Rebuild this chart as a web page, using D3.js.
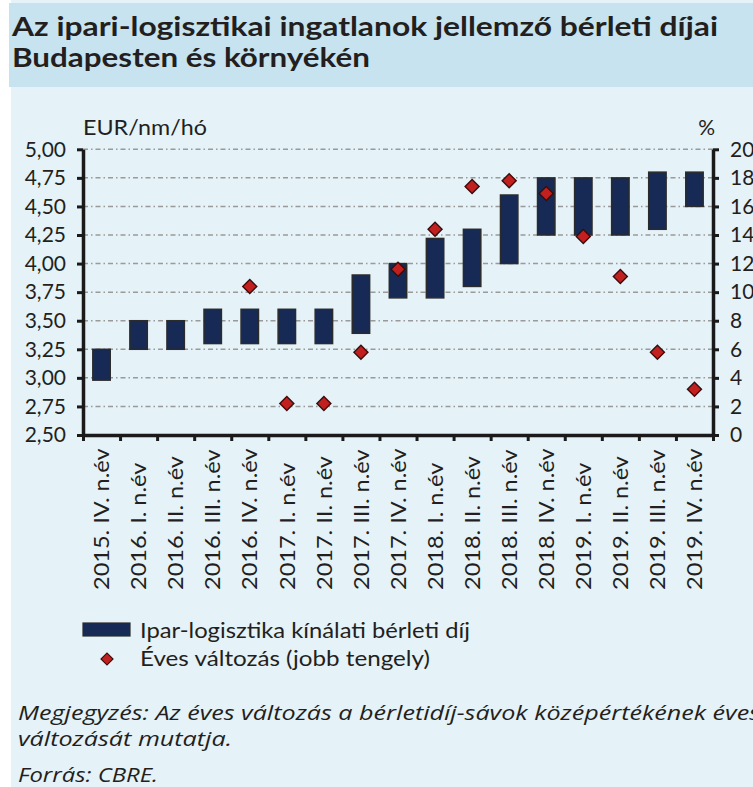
<!DOCTYPE html>
<html><head><meta charset="utf-8">
<script src="https://cdn.jsdelivr.net/npm/d3@7"></script>
<style>
html,body{margin:0;padding:0;background:#fff;}
svg{display:block;}
</style></head>
<body>
<svg id="chart" width="753" height="787"></svg>
<script>
const categories = ["2015. IV. n.év","2016. I. n.év","2016. II. n.év","2016. III. n.év","2016. IV. n.év",
  "2017. I. n.év","2017. II. n.év","2017. III. n.év","2017. IV. n.év","2018. I. n.év","2018. II. n.év",
  "2018. III. n.év","2018. IV. n.év","2019. I. n.év","2019. II. n.év","2019. III. n.év","2019. IV. n.év"];
const rentLow  = [2.98,3.25,3.25,3.30,3.30,3.30,3.30,3.39,3.70,3.70,3.80,4.00,4.25,4.25,4.25,4.30,4.50];
const rentHigh = [3.25,3.50,3.50,3.60,3.60,3.60,3.60,3.90,4.00,4.22,4.30,4.60,4.75,4.75,4.75,4.80,4.80];
const annualChange = [null,null,null,null,10.4,2.2,2.2,5.8,11.6,14.4,17.4,17.8,16.9,13.9,11.1,5.8,3.2];
const leftTicks = [2.5,2.75,3,3.25,3.5,3.75,4,4.25,4.5,4.75,5];
const rightTicks = [0,2,4,6,8,10,12,14,16,18,20];
const title = ["Az ipari-logisztikai ingatlanok jellemző bérleti díjai","Budapesten és környékén"];
const legendLabels = ["Ipar-logisztika kínálati bérleti díj","Éves változás (jobb tengely)"];
const notes = ["Megjegyzés: Az éves változás a bérletidíj-sávok középértékének éves","változását mutatja."];
const source = "Forrás: CBRE.";

const svg = d3.select("#chart");
const W = 753, H = 787;
const FONT = "Lato, 'Open Sans', sans-serif";
const navy = "#162a55", red = "#c2201f", ink = "#231f20";

// stretch text horizontally to the width it has in the reference
function fit(sel, widths){
  sel.attr("textLength",(d,i)=>widths[i]).attr("lengthAdjust","spacingAndGlyphs");
}

// backgrounds
svg.append("rect").attr("width",W).attr("height",H).attr("fill","#ffffff");
svg.append("rect").attr("x",11).attr("y",0).attr("width",W-11).attr("height",H).attr("fill","#e5f2f7");
svg.append("rect").attr("x",9).attr("y",3).attr("width",W-9).attr("height",84).attr("fill","#c6e3ef");

// title
svg.append("g").selectAll("text").data(title).join("text")
  .attr("x",12).attr("y",(d,i)=>36+i*31)
  .attr("font-family",FONT).attr("font-weight","bold").attr("font-size",26)
  .attr("fill",ink).text(d=>d)
  .call(fit,[706,358]);

const m = {left:83, right:713, top:149.3, bottom:435};
const x = d3.scaleBand().domain(categories).range([m.left,m.right]).paddingInner(0.53).paddingOuter(0.265);
const xIdx = d3.scaleLinear().domain([0,categories.length]).range([m.left,m.right]);
const yL = d3.scaleLinear().domain([2.5,5]).range([m.bottom,m.top]);
const yR = d3.scaleLinear().domain([0,20]).range([m.bottom,m.top]);
const fmt = d => d3.format(".2f")(d).replace(".",",");

// gridlines
svg.append("g").selectAll("line").data(leftTicks.slice(1)).join("line")
  .attr("x1",m.left).attr("x2",m.right).attr("y1",d=>yL(d)).attr("y2",d=>yL(d))
  .attr("stroke","#9a9a9a").attr("stroke-width",1.5).attr("stroke-dasharray","5,3,1.5,3");

// bars
svg.append("g").selectAll("rect").data(categories).join("rect")
  .attr("x",d=>x(d)).attr("width",x.bandwidth())
  .attr("y",(d,i)=>yL(rentHigh[i])).attr("height",(d,i)=>yL(rentLow[i])-yL(rentHigh[i]))
  .attr("fill",navy).attr("stroke","#2b2b2b").attr("stroke-width",1.5);

// diamonds
const diamond = d3.symbol().type(d3.symbolSquare).size(98);
svg.append("g").selectAll("path").data(categories.map((c,i)=>({c,v:annualChange[i]})).filter(d=>d.v!=null)).join("path")
  .attr("d",diamond)
  .attr("transform",d=>`translate(${x(d.c)+x.bandwidth()/2},${yR(d.v)}) rotate(45)`)
  .attr("fill",red).attr("stroke","#3a0d0d").attr("stroke-width",1.4);

// axes
function styleAxis(g){
  g.select(".domain").attr("stroke","#1a1a1a").attr("stroke-width",3.5);
  g.selectAll(".tick line").attr("stroke","#1a1a1a").attr("stroke-width",3);
  g.selectAll("text").attr("font-family",FONT).attr("fill",ink);
}
const axL = svg.append("g").attr("transform",`translate(${m.left},0)`)
  .call(d3.axisLeft(yL).tickValues(leftTicks).tickFormat(fmt).tickSize(6).tickSizeOuter(0).tickPadding(11));
styleAxis(axL); axL.selectAll("text").attr("font-size",21);
const axR = svg.append("g").attr("transform",`translate(${m.right},0)`)
  .call(d3.axisRight(yR).tickValues(rightTicks).tickSize(6).tickSizeOuter(0).tickPadding(11));
styleAxis(axR); axR.selectAll("text").attr("font-size",21);
const axB = svg.append("g").attr("transform",`translate(0,${m.bottom})`)
  .call(d3.axisBottom(xIdx).tickValues(d3.range(categories.length+1)).tickFormat("").tickSize(6).tickSizeOuter(0));
styleAxis(axB);
const axBL = svg.append("g").attr("transform",`translate(0,${m.bottom})`)
  .call(d3.axisBottom(x).tickSize(0).tickPadding(0));
axBL.select(".domain").remove();
const xl = axBL.selectAll("text").attr("font-family",FONT).attr("font-size",22).attr("fill",ink)
  .attr("transform","rotate(-90)").attr("text-anchor","start").attr("dy","0.35em").attr("x",-155).attr("y",0);
// uniform horizontal stretch of the rotated labels
xl.each(function(){
  const w = this.getComputedTextLength();
  d3.select(this).attr("textLength", w*1.07).attr("lengthAdjust","spacingAndGlyphs");
});

// unit labels
svg.append("text").attr("x",83).attr("y",135).attr("font-family",FONT).attr("font-size",21).attr("fill",ink)
  .text("EUR/nm/hó").attr("textLength",124).attr("lengthAdjust","spacingAndGlyphs");
svg.append("text").attr("x",715).attr("y",135).attr("text-anchor","end").attr("font-family",FONT).attr("font-size",21).attr("fill",ink).text("%");

// legend
const lg = svg.append("g");
lg.append("rect").attr("x",83).attr("y",623).attr("width",47).attr("height",13).attr("fill",navy).attr("stroke","#2b2b2b").attr("stroke-width",1.2);
lg.append("path").attr("d",d3.symbol().type(d3.symbolSquare).size(72)).attr("transform","translate(107,659) rotate(45)")
  .attr("fill",red).attr("stroke","#3a0d0d").attr("stroke-width",1.2);
lg.selectAll("text").data(legendLabels).join("text")
  .attr("x",140).attr("y",(d,i)=>638+i*28).attr("font-family",FONT).attr("font-size",21).attr("fill",ink).text(d=>d)
  .call(fit,[330,290]);

// notes
svg.append("g").selectAll("text").data(notes).join("text")
  .attr("x",18).attr("y",(d,i)=>720+i*26).attr("font-family","'Open Sans', sans-serif").attr("font-style","italic")
  .attr("font-size",20).attr("fill",ink).text(d=>d)
  .call(fit,[742,214]);
svg.append("text").attr("x",18).attr("y",782).attr("font-family","'Open Sans', sans-serif").attr("font-style","italic")
  .attr("font-size",20).attr("fill",ink).text(source)
  .attr("textLength",140).attr("lengthAdjust","spacingAndGlyphs");
</script>
</body></html>
